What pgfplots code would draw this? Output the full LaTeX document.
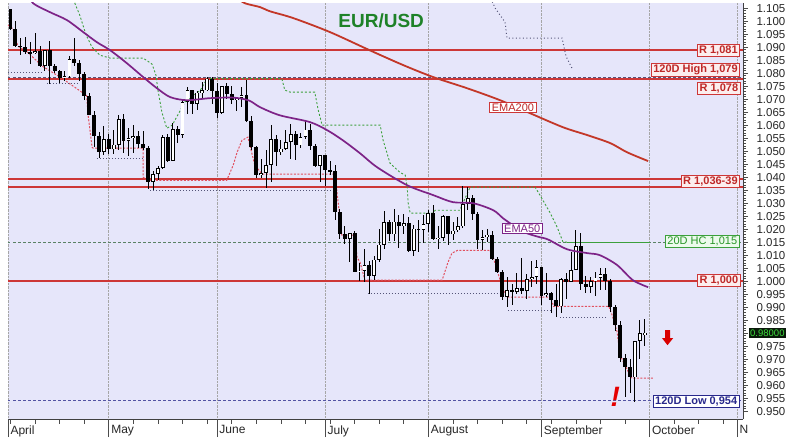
\documentclass[border=0pt]{standalone}
\usepackage{pgfplots}
\pgfplotsset{compat=1.18}
\usepackage{pgfplotstable}
\usepackage{fontspec}
\setmainfont{Liberation Sans}

\definecolor{bg}{RGB}{230,230,250}
\definecolor{resl}{RGB}{205,55,55}
\definecolor{rtext}{RGB}{190,40,40}
\definecolor{rfill}{RGB}{252,238,238}
\definecolor{emaf}{RGB}{125,35,135}
\definecolor{emah}{RGB}{195,55,40}
\definecolor{gline}{RGB}{60,160,60}
\definecolor{gtext}{RGB}{40,150,40}
\definecolor{gfill}{RGB}{236,250,236}
\definecolor{navy}{RGB}{40,40,140}
\definecolor{dashc}{RGB}{85,85,120}
\definecolor{gdash}{RGB}{90,130,100}
\definecolor{rdash}{RGB}{225,80,95}
\definecolor{ttl}{RGB}{30,130,40}

\pgfplotstableread{
i o h l c
1 1.1045 1.1048 1.0968 1.0971
2 1.0971 1.0999 1.0902 1.0904
3 1.0904 1.0936 1.0871 1.0902
4 1.0902 1.0940 1.0874 1.0880
5 1.0880 1.0921 1.0836 1.0876
6 1.0876 1.0954 1.0873 1.0886
7 1.0886 1.0905 1.0822 1.0827
8 1.0827 1.0890 1.0808 1.0890
9 1.0890 1.0924 1.0757 1.0826
10 1.0826 1.0835 1.0800 1.0810
11 1.0810 1.0812 1.0762 1.0780
12 1.0780 1.0808 1.0769 1.0788
13 1.0788 1.0866 1.0780 1.0854
14 1.0854 1.0936 1.0826 1.0838
15 1.0838 1.0851 1.0770 1.0797
16 1.0797 1.0806 1.0698 1.0714
17 1.0714 1.0723 1.0638 1.0640
18 1.0640 1.0653 1.0516 1.0560
19 1.0560 1.0573 1.0472 1.0497
20 1.0497 1.0595 1.0487 1.0545
21 1.0545 1.0566 1.0490 1.0507
22 1.0507 1.0580 1.0491 1.0525
23 1.0525 1.0641 1.0505 1.0622
24 1.0622 1.0642 1.0493 1.0541
25 1.0541 1.0590 1.0483 1.0551
26 1.0551 1.0600 1.0494 1.0559
27 1.0559 1.0577 1.0512 1.0529
28 1.0529 1.0578 1.0504 1.0512
29 1.0512 1.0521 1.0354 1.0381
30 1.0381 1.0424 1.0349 1.0412
31 1.0412 1.0442 1.0389 1.0436
32 1.0436 1.0564 1.0430 1.0555
33 1.0555 1.0565 1.0460 1.0464
34 1.0464 1.0607 1.0462 1.0586
35 1.0586 1.0597 1.0532 1.0562
36 1.0562 1.0697 1.0550 1.0690
37 1.0690 1.0748 1.0642 1.0735
38 1.0735 1.0737 1.0644 1.0682
39 1.0682 1.0733 1.0660 1.0725
40 1.0725 1.0765 1.0701 1.0734
41 1.0734 1.0787 1.0731 1.0779
42 1.0779 1.0786 1.0683 1.0733
43 1.0733 1.0764 1.0627 1.0648
44 1.0648 1.0750 1.0643 1.0750
45 1.0750 1.0764 1.0702 1.0719
46 1.0719 1.0752 1.0681 1.0696
47 1.0696 1.0708 1.0654 1.0705
48 1.0705 1.0748 1.0670 1.0717
49 1.0717 1.0774 1.0613 1.0616
50 1.0616 1.0637 1.0506 1.0518
51 1.0518 1.0521 1.0398 1.0409
52 1.0409 1.0469 1.0397 1.0416
53 1.0416 1.0506 1.0359 1.0446
54 1.0446 1.0601 1.0382 1.0547
55 1.0547 1.0564 1.0444 1.0495
56 1.0495 1.0544 1.0487 1.0510
57 1.0510 1.0583 1.0505 1.0536
58 1.0536 1.0605 1.0470 1.0566
59 1.0566 1.0579 1.0467 1.0522
60 1.0522 1.0570 1.0513 1.0554
61 1.0554 1.0615 1.0548 1.0583
62 1.0583 1.0606 1.0505 1.0519
63 1.0519 1.0529 1.0439 1.0443
64 1.0443 1.0487 1.0382 1.0484
65 1.0484 1.0486 1.0366 1.0426
66 1.0426 1.0464 1.0410 1.0423
67 1.0423 1.0445 1.0235 1.0265
68 1.0265 1.0276 1.0162 1.0183
69 1.0183 1.0214 1.0144 1.0163
70 1.0163 1.0186 1.0072 1.0186
71 1.0186 1.0195 1.0036 1.0037
72 1.0037 1.0069 0.9999 1.0040
73 1.0040 1.0122 0.9998 1.0061
74 1.0061 1.0079 0.9952 1.0019
75 1.0019 1.0098 1.0006 1.0083
76 1.0083 1.0202 1.0072 1.0141
77 1.0141 1.0269 1.0124 1.0227
78 1.0227 1.0234 1.0154 1.0180
79 1.0180 1.0278 1.0154 1.0229
80 1.0229 1.0254 1.0129 1.0212
81 1.0212 1.0258 1.0180 1.0223
82 1.0223 1.0248 1.0111 1.0118
83 1.0118 1.0218 1.0097 1.0202
84 1.0202 1.0234 1.0112 1.0197
85 1.0197 1.0254 1.0146 1.0220
86 1.0220 1.0274 1.0189 1.0262
87 1.0262 1.0294 1.0160 1.0163
88 1.0163 1.0212 1.0123 1.0167
89 1.0167 1.0254 1.0155 1.0249
90 1.0249 1.0250 1.0141 1.0180
91 1.0180 1.0229 1.0160 1.0195
92 1.0195 1.0248 1.0190 1.0211
93 1.0211 1.0368 1.0203 1.0297
94 1.0297 1.0364 1.0275 1.0320
95 1.0320 1.0330 1.0235 1.0258
96 1.0258 1.0267 1.0122 1.0160
97 1.0160 1.0197 1.0121 1.0170
98 1.0170 1.0202 1.0150 1.0179
99 1.0179 1.0193 1.0080 1.0087
100 1.0087 1.0093 1.0032 1.0037
101 1.0037 1.0045 0.9926 0.9939
102 0.9939 1.0017 0.9899 0.9967
103 0.9967 0.9990 0.9910 0.9960
104 0.9960 1.0030 0.9950 0.9973
105 0.9973 1.0090 0.9950 0.9962
106 0.9962 1.0028 0.9930 1.0009
107 1.0009 1.0079 0.9978 1.0017
108 1.0017 1.0080 0.9990 1.0054
109 1.0054 1.0056 0.9910 0.9945
110 0.9945 1.0033 0.9940 0.9955
111 0.9955 0.9960 0.9877 0.9929
112 0.9929 0.9990 0.9864 0.9903
113 0.9903 1.0011 0.9876 1.0009
114 1.0009 1.0030 0.9930 0.9998
115 0.9998 1.0113 0.9998 1.0042
116 1.0042 1.0198 1.0042 1.0135
117 1.0135 1.0187 0.9966 0.9990
118 0.9990 1.0020 0.9953 0.9979
119 0.9979 1.0017 0.9955 0.9999
120 0.9999 1.0036 0.9945 1.0014
121 1.0014 1.0050 0.9968 1.0027
122 1.0027 1.0050 0.9966 1.0000
123 1.0000 1.0010 0.9880 0.9900
124 0.9900 0.9910 0.9810 0.9830
125 0.9830 0.9845 0.9690 0.9705
126 0.9705 0.9720 0.9555 0.9670
127 0.9670 0.9700 0.9570 0.9630
128 0.9630 0.9770 0.9536 0.9770
129 0.9770 0.9850 0.9700 0.9800
130 0.9792 0.9853 0.9750 0.9802
}\candles

\tikzset{
  lbl/.style={draw, line width=0.8pt, inner xsep=2pt, inner ysep=1.3pt, font=\fontsize{11}{12}\selectfont},
  rbox/.style={lbl, draw=resl, fill=rfill, text=rtext, font=\fontsize{11}{12}\selectfont\bfseries},
}

\begin{document}
\begin{tikzpicture}
\begin{axis}[
  scale only axis, width=735pt, height=416pt,
  xmin=0.5, xmax=150, ymin=0.947, ymax=1.107,
  axis background/.style={fill=bg},
  axis x line*=bottom, axis y line*=right,
  axis line style={black!75, line width=0.8pt},
  tick align=outside,
  major tick length=5pt, minor tick length=3pt,
  tick style={black!70, line width=0.6pt},
  xtick={1,6,...,146}, xticklabels={},
  extra x ticks={0.5,21,43,65,86,109,131,148.8},
  extra x tick labels={April,May,June,July,August,September,October,N},
  extra x tick style={major tick length=18pt, grid=major,
     major grid style={densely dotted, black!35, line width=0.6pt},
     xticklabel style={anchor=north west, xshift=-1pt, yshift=15pt, font=\fontsize{12}{13}\selectfont}},
  ytick={0.950,0.955,0.960,0.965,0.970,0.975,0.980,0.985,0.990,0.995,1.000,1.005,1.010,1.015,1.020,1.025,1.030,1.035,1.040,1.045,1.050,1.055,1.060,1.065,1.070,1.075,1.080,1.085,1.090,1.095,1.100,1.105},
  yticklabels={0.950,0.955,0.960,0.965,0.970,0.975,,0.985,0.990,0.995,1.000,1.005,1.010,1.015,1.020,1.025,1.030,1.035,1.040,1.045,1.050,1.055,1.060,1.065,1.070,1.075,1.080,1.085,1.090,1.095,1.100,1.105},
  minor y tick num=4,
  yticklabel style={xshift=5pt},
  tick label style={font=\fontsize{11.5}{12}\selectfont, text=black!85},
  unbounded coords=jump,
]
\coordinate (SW) at (rel axis cs:0,0);
\coordinate (NE) at (rel axis cs:1,1);
\coordinate (CP) at (axis cs:150,0.980);

% full-width level lines
\addplot[color=dashc, line width=0.9pt, dash pattern=on 2.5pt off 2.5pt] coordinates {(0.5,1.0785) (150,1.0785)};
\addplot[color=gdash, line width=0.9pt, dash pattern=on 2.5pt off 2.5pt] coordinates {(0.5,1.015) (150,1.015)};
\addplot[color=navy!80, line width=0.9pt, dash pattern=on 2.5pt off 2.5pt] coordinates {(0.5,0.9542) (150,0.9542)};
\addplot[color=gline, line width=1.3pt] coordinates {(114.2,1.015) (131,1.015)};
\addplot[color=resl, line width=1.6pt] coordinates {(0.5,1.0890) (150,1.0890)};
\addplot[color=resl, line width=1.6pt] coordinates {(0.5,1.0777) (150,1.0777)};
\addplot[color=resl, line width=1.6pt] coordinates {(0.5,1.0392) (150,1.0392)};
\addplot[color=resl, line width=1.6pt] coordinates {(0.5,1.0362) (150,1.0362)};
\addplot[color=resl, line width=1.6pt] coordinates {(0.5,1.0000) (150,1.0000)};

% 20D highest close (green dashed)
\addplot[color=gline, line width=0.9pt, dash pattern=on 2pt off 2pt] coordinates {
(13.6,1.1100) (14.1,1.1069) (15.1,1.1023) (16.4,1.0946) (17.6,1.0900) (19.2,1.0869)
(21.3,1.0858) (28.0,1.0858) (29.8,1.0835) (30.6,1.0792) (31.0,1.0735) (31.8,1.0650)
(32.8,1.0588) (33.9,1.0600) (36.5,1.0690) (39.6,1.0734) (41.0,1.0779) (56.2,1.0779)
(56.8,1.0735) (57.9,1.0727) (62.9,1.0727) (63.6,1.0658) (64.4,1.0600) (76.2,1.0600)
(76.8,1.0542) (78.2,1.0454) (80.2,1.0419) (81.3,1.0408) (81.7,1.0362) (81.9,1.0300)
(82.3,1.0262) (87.0,1.0262) (87.4,1.0273) (92.4,1.0273) (93.5,1.0320) (94.5,1.0362)
(107.7,1.0362) (108.7,1.0331) (110.8,1.0262) (112.2,1.0208) (113.4,1.0150) (114.2,1.0150)};

% 20D lowest close (red dashed)
\addplot[color=rdash, line width=1pt, dash pattern=on 2pt off 1.5pt] coordinates {
(0.5,1.0985) (1.5,1.0971) (2.5,1.0904) (4.5,1.0880) (7.5,1.0827) (11.5,1.0780)
(16.5,1.0714) (16.8,1.0638) (17.6,1.0515) (17.8,1.0512) (28.0,1.0512) (28.0,1.0400)
(28.8,1.0388) (45.0,1.0388) (46.3,1.0446) (47.1,1.0496) (48.1,1.0542) (49.3,1.0554)
(49.7,1.0523) (50.7,1.0446) (52.2,1.0412) (67.0,1.0412) (67.6,1.0312) (68.4,1.0177)
(71.1,1.0177) (71.5,1.0092) (72.1,1.0073) (73.1,1.0004) (88.8,1.0004) (90.0,1.0073)
(90.8,1.0108) (92.0,1.0119) (98.5,1.0119) (99.2,1.0092) (100.0,1.0042) (101.2,0.9965)
(102.2,0.9939) (110.8,0.9939) (111.5,0.9903) (122.7,0.9903) (123.4,0.9869) (124.4,0.9804)
(125.0,0.9715) (126.0,0.9677) (127.0,0.9638) (127.4,0.9627) (131.7,0.9627)};

% 20D lowest low / highest high (dark dotted)
\addplot[color=dashc, line width=1pt, dash pattern=on 1pt off 2pt] coordinates {
(0.5,1.0804) (7.6,1.0804) (7.6,nan) (8.4,1.0762) (15.1,1.0762) (15.1,nan)
(18.6,1.0473) (28.0,1.0473) (28.0,nan) (29.4,1.0350) (67.0,1.0350) (67.0,nan)
(73.7,0.9954) (102.0,0.9954) (102.0,nan) (102.2,0.9888) (110.8,0.9888) (110.8,nan)
(112.8,0.9862) (122.3,0.9862)};
\addplot[color=dashc, line width=1pt, dash pattern=on 1pt off 2.5pt] coordinates {
(99.0,1.1075) (99.6,1.1050) (101.6,1.0996) (102.0,1.0935) (113.2,1.0935) (114.0,1.0865) (115.4,1.0812)};

% candles: wicks
\addplot[draw=none, forget plot, error bars/.cd, y dir=both, y explicit, error mark=none,
  error bar style={draw=black, solid, line width=0.8pt}]
  table[x=i, y expr={(\thisrow{h}+\thisrow{l})/2}, y error expr={(\thisrow{h}-\thisrow{l})/2}] {\candles};
% bearish bodies
\addplot[draw=none, forget plot, restrict expr to domain={\thisrow{o}-\thisrow{c}}{0:1},
  error bars/.cd, y dir=both, y explicit, error mark=none,
  error bar style={draw=black, solid, line width=3.8pt}]
  table[x=i, y expr={(\thisrow{o}+\thisrow{c})/2}, y error expr={max(abs(\thisrow{o}-\thisrow{c})/2,0.0002)}] {\candles};
% bullish bodies
\addplot[draw=none, forget plot, restrict expr to domain={\thisrow{c}-\thisrow{o}}{0.000001:1},
  error bars/.cd, y dir=both, y explicit, error mark=none,
  error bar style={draw=black, solid, line width=3.8pt}]
  table[x=i, y expr={(\thisrow{o}+\thisrow{c})/2}, y error expr={max(abs(\thisrow{o}-\thisrow{c})/2,0.0002)}] {\candles};
\addplot[draw=none, forget plot, restrict expr to domain={\thisrow{c}-\thisrow{o}}{0.000001:1},
  error bars/.cd, y dir=both, y explicit, error mark=none,
  error bar style={draw=white, solid, line width=2.2pt}]
  table[x=i, y expr={(\thisrow{o}+\thisrow{c})/2}, y error expr={max(abs(\thisrow{o}-\thisrow{c})/2-0.0003,0.00001)}] {\candles};

% EMA50
\addplot[color=emaf, line width=1.7pt, smooth] coordinates {
(4.5,1.1110) (5.6,1.1069) (9.0,1.1035) (12.5,1.1004) (15.8,1.0958) (18.6,1.0919)
(21.3,1.0888) (24.7,1.0838) (28.0,1.0785) (30.8,1.0742) (33.5,1.0708) (36.9,1.0696)
(41.6,1.0704) (46.3,1.0706) (49.5,1.0695) (51.8,1.0669) (55.8,1.0638) (61.9,1.0612)
(65.4,1.0581) (68.6,1.0542) (72.1,1.0492) (75.6,1.0438) (81.7,1.0369) (87.0,1.0331)
(91.0,1.0304) (95.1,1.0300) (99.2,1.0273) (101.2,1.0242) (103.2,1.0215) (104.6,1.0195)
(106.7,1.0180) (108.7,1.0169) (110.4,1.0160) (114.2,1.0123) (118.3,1.0108) (120.9,1.0100)
(124.4,1.0062) (127.6,1.0004) (130.7,0.9977)};
% EMA200
\addplot[color=emah, line width=1.8pt, smooth] coordinates {
(47.0,1.1090) (48.7,1.1069) (51.8,1.1054) (53.8,1.1038) (58.5,1.1012) (66.0,1.0958)
(74.1,1.0888) (80.9,1.0831) (87.0,1.0785) (93.9,1.0742) (100.6,1.0696) (106.7,1.0646)
(113.4,1.0592) (118.3,1.0562) (123.0,1.0531) (126.4,1.0496) (130.7,1.0462)};

% labels
\node[rbox, anchor=east] at (axis cs:149.4,1.0888) {R 1,081};
\node[rbox, anchor=east] at (axis cs:149.4,1.0812) {120D High 1,079};
\node[rbox, anchor=east] at (axis cs:149.5,1.0742) {R 1,078};
\node[rbox, anchor=east] at (axis cs:149.4,1.0385) {R 1,036-39};
\node[rbox, anchor=east] at (axis cs:149.5,1.0004) {R 1,000};
\node[lbl, draw=gline, fill=gfill, text=gtext, anchor=east] at (axis cs:149.3,1.0152) {20D HC 1,015};
\node[lbl, draw=navy, fill=white, text=navy, anchor=east, font=\fontsize{11}{12}\selectfont\bfseries] at (axis cs:149.3,0.9538) {120D Low 0,954};
\node[lbl, draw=resl, fill=white, text=rtext] at (axis cs:103.2,1.0669) {EMA200};
\node[lbl, draw=emaf, fill=white, text=emaf] at (axis cs:105.1,1.0202) {EMA50};
\node[text=ttl, font=\fontsize{19}{20}\selectfont\bfseries] at (axis cs:76.4,1.1000) {EUR/USD};
\fill[red!85!black] (axis cs:134.15,0.98115) -- (axis cs:135.17,0.98115) -- (axis cs:135.17,0.97808)
  -- (axis cs:135.78,0.97808) -- (axis cs:134.65,0.97538) -- (axis cs:133.54,0.97808)
  -- (axis cs:134.15,0.97808) -- cycle;
\node[text=red!90!black, font=\fontsize{28}{28}\selectfont\bfseries\itshape] at (axis cs:124.0,0.9555) {!};
\end{axis}
\node[anchor=west, fill={rgb,255:red,10;green,25;blue,10}, text={rgb,255:red,60;green,220;blue,60},
  font=\fontsize{9.5}{10}\selectfont, inner xsep=1pt, inner ysep=1.5pt, xshift=6pt] at (CP) {0.98000};
\pgfresetboundingbox
\path ([shift={(-8pt,-24pt)}]SW) rectangle ([shift={(59pt,3pt)}]NE);
\end{tikzpicture}
\end{document}
